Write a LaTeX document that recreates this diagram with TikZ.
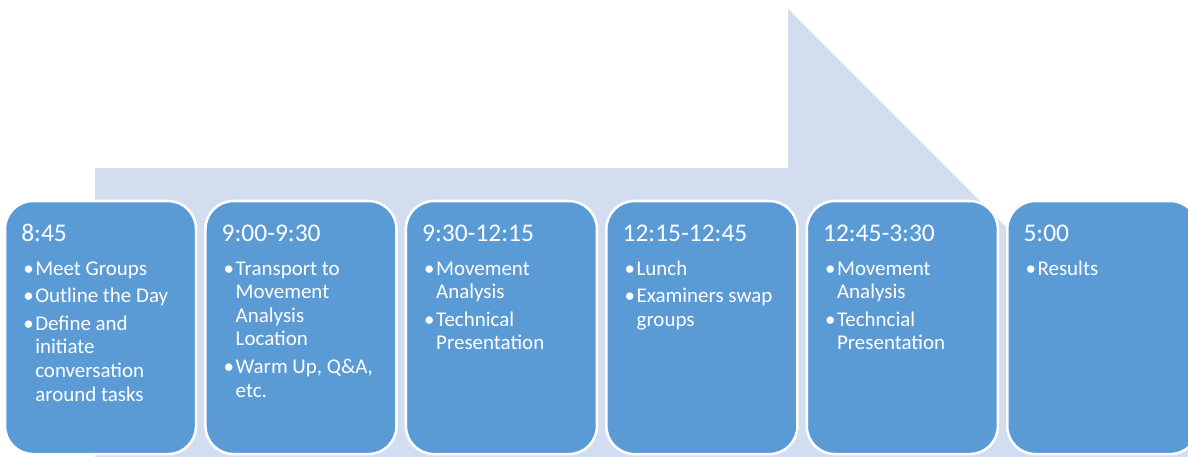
\documentclass[tikz,border=0pt]{standalone}
\usepackage{fontspec}
\setmainfont{Carlito}
\usetikzlibrary{positioning}
\definecolor{slotblue}{HTML}{5B9BD5}
\definecolor{arrowblue}{HTML}{D2DEEF}
\tikzset{
	slot/.style={
			draw=white, line width=1.8pt, fill=slotblue, rounded corners=0.7cm,
			minimum width=4.775cm, minimum height=6.325cm, inner sep=0pt, outer sep=0pt
		},
	slottime/.style={text=white, font=\fontsize{18.1}{21}\selectfont, anchor=base west, inner sep=0pt},
	slotlist/.style={text=white, font=\fontsize{14.9}{16.8}\selectfont, anchor=base west, inner sep=0pt}
}
\newenvironment{items}{\begin{tabular}[t]{@{}p{0.3cm}@{}l@{}}}{\end{tabular}}

\begin{document}
\begin{tikzpicture}[x=0.025cm, y=-0.025cm]
		\useasboundingbox (0,0) rectangle (1188,456);
		\clip (0,0) rectangle (1188,456);
		% Arrow behind the day
		\fill[arrowblue] (95,168) -- (788,168) -- (788,9) -- (1245,466) -- (95,466) -- cycle;
		% Time slots
		\node[slot, anchor=north west] (s1) at (5,201) {};
		\node[slot, right=0.235cm of s1] (s2) {};
		\node[slot, right=0.235cm of s2] (s3) {};
		\node[slot, right=0.235cm of s3] (s4) {};
		\node[slot, right=0.235cm of s4] (s5) {};
		\node[slot, right=0.235cm of s5] (s6) {};
		% Times
		\node[slottime] (t1) at ([xshift=0.4cm, yshift=-1cm]s1.north west) {8:45};
		\node[slottime] (t2) at ([xshift=0.4cm, yshift=-1cm]s2.north west) {9:00-9:30};
		\node[slottime] (t3) at ([xshift=0.4cm, yshift=-1cm]s3.north west) {9:30-12:15};
		\node[slottime] (t4) at ([xshift=0.4cm, yshift=-1cm]s4.north west) {12:15-12:45};
		\node[slottime] (t5) at ([xshift=0.4cm, yshift=-1cm]s5.north west) {12:45-3:30};
		\node[slottime] (t6) at ([xshift=0.4cm, yshift=-1cm]s6.north west) {5:00};
		% Tasks
		\node[slotlist] (l1) at ([xshift=0.45cm, yshift=-1.85cm]s1.north west) {\begin{items}
				\textbullet & Meet Groups\\[2.8pt]
				\textbullet & Outline the Day\\[2.8pt]
				\textbullet & Define and\\ & initiate\\ & conversation\\ & around tasks
			\end{items}};
		\node[slotlist] (l2) at ([xshift=0.45cm, yshift=-1.85cm]s2.north west) {\begin{items}
				\textbullet & Transport to\\ & Movement\\ & Analysis\\ & Location\\[2.8pt]
				\textbullet & Warm Up, Q\&A,\\ & etc.
			\end{items}};
		\node[slotlist] (l3) at ([xshift=0.45cm, yshift=-1.85cm]s3.north west) {\begin{items}
				\textbullet & Movement\\ & Analysis\\[2.8pt]
				\textbullet & Technical\\ & Presentation
			\end{items}};
		\node[slotlist] (l4) at ([xshift=0.45cm, yshift=-1.85cm]s4.north west) {\begin{items}
				\textbullet & Lunch\\[2.8pt]
				\textbullet & Examiners swap\\ & groups
			\end{items}};
		\node[slotlist] (l5) at ([xshift=0.45cm, yshift=-1.85cm]s5.north west) {\begin{items}
				\textbullet & Movement\\ & Analysis\\[2.8pt]
				\textbullet & Techncial\\ & Presentation
			\end{items}};
		\node[slotlist] (l6) at ([xshift=0.45cm, yshift=-1.85cm]s6.north west) {\begin{items}
				\textbullet & Results
			\end{items}};
	\end{tikzpicture}
\end{document}
